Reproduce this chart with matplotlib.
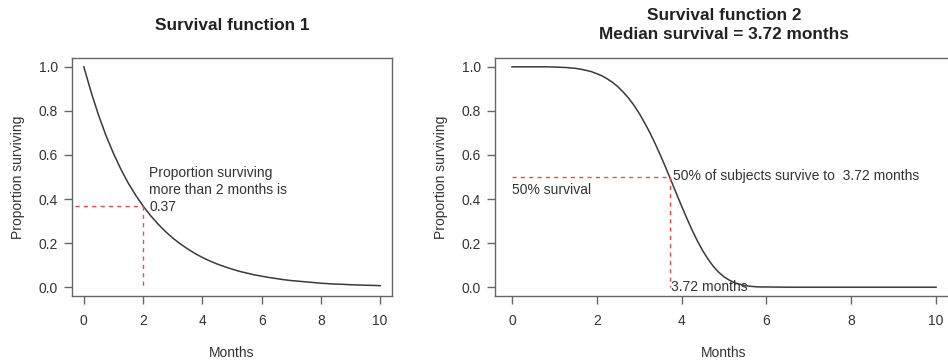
import matplotlib
matplotlib.use("Agg")
import matplotlib.pyplot as plt

# ---- data ----
months1 = [0.0, 0.25, 0.5, 0.75, 1.0, 1.25, 1.5, 1.75, 2.0, 2.25, 2.5, 2.75,
           3.0, 3.25, 3.5, 3.75, 4.0, 4.25, 4.5, 4.75, 5.0, 5.25, 5.5, 5.75,
           6.0, 6.25, 6.5, 6.75, 7.0, 7.25, 7.5, 7.75, 8.0, 8.25, 8.5, 8.75,
           9.0, 9.25, 9.5, 9.75, 10.0]
surv1 = [1.000, 0.883, 0.779, 0.687, 0.607, 0.535, 0.472, 0.417, 0.368, 0.325,
         0.287, 0.253, 0.223, 0.197, 0.174, 0.153, 0.135, 0.119, 0.105, 0.093,
         0.082, 0.072, 0.064, 0.056, 0.050, 0.044, 0.039, 0.034, 0.030, 0.027,
         0.024, 0.021, 0.018, 0.016, 0.014, 0.013, 0.011, 0.010, 0.009, 0.008,
         0.007]
months2 = [0.0, 0.25, 0.5, 0.75, 1.0, 1.25, 1.5, 1.625, 1.75, 1.875,
           2.0, 2.125, 2.25, 2.375, 2.5, 2.625, 2.75, 2.875,
           3.0, 3.125, 3.25, 3.375, 3.5, 3.625, 3.75, 3.875,
           4.0, 4.125, 4.25, 4.375, 4.5, 4.625, 4.75, 4.875,
           5.0, 5.125, 5.25, 5.375, 5.5, 5.625, 5.75, 5.875,
           6.0, 6.5, 7.0, 7.5, 8.0, 8.5, 9.0, 9.5, 10.0]
surv2 = [1.000, 1.000, 1.000, 1.000, 0.999, 0.997, 0.993, 0.989, 0.984, 0.978,
         0.969, 0.959, 0.945, 0.929, 0.909, 0.885, 0.858, 0.826,
         0.789, 0.747, 0.702, 0.652, 0.599, 0.543, 0.485, 0.426,
         0.368, 0.312, 0.258, 0.209, 0.165, 0.127, 0.094, 0.068,
         0.047, 0.032, 0.020, 0.013, 0.007, 0.004, 0.002, 0.001,
         0.001, 0.000, 0.000, 0.000, 0.000, 0.000, 0.000, 0.000, 0.000]
xticks = [0, 2, 4, 6, 8, 10]
yticks = [0.0, 0.2, 0.4, 0.6, 0.8, 1.0]
ytick_labels = ["0.0", "0.2", "0.4", "0.6", "0.8", "1.0"]
t1, s1 = 2, 0.37
median2 = 3.72

plt.rcParams['font.family'] = ['Liberation Sans', 'DejaVu Sans']
W, H = 948, 363
fig = plt.figure(figsize=(W / 100, H / 100), dpi=100)

TXT = '#333333'
SPINE = '#666666'
CURVE = '#3a3a3a'
RED = '#f04a4a'


def px_axes(l, r, t, b):
    return fig.add_axes([l / W, (H - b) / H, (r - l) / W, (b - t) / H])


def style(ax):
    ax.set_xlim(-0.4, 10.4)
    ax.set_ylim(-0.04, 1.04)
    ax.set_xticks(xticks)
    ax.set_yticks(yticks)
    ax.set_yticklabels(ytick_labels)
    for sp in ax.spines.values():
        sp.set_color(SPINE)
        sp.set_linewidth(1.0)
    ax.tick_params(axis='both', colors=SPINE, labelcolor=TXT, labelsize=10,
                   length=6, width=1.0)
    ax.tick_params(axis='x', pad=7)
    ax.tick_params(axis='y', pad=4)
    ax.set_xlabel('Months', fontsize=10, color=TXT, labelpad=13)
    ax.set_ylabel('Proportion surviving', fontsize=10, color=TXT, labelpad=10)


# left panel
ax1 = px_axes(72, 392, 58, 296)
style(ax1)
ax1.plot(months1, surv1, color=CURVE, lw=1.1)
ax1.plot([-0.3, t1], [s1, s1], color=RED, lw=1.0, ls=(0, (3, 3)))
ax1.plot([t1, t1], [s1, 0], color=RED, lw=1.0, ls=(0, (3, 3)))
ax1.text(t1 + 0.2, 0.44, 'Proportion surviving\nmore than 2 months is\n0.37',
         fontsize=10, color=TXT, ha='left', va='center', linespacing=1.25)
ax1.set_title('Survival function 1', fontsize=12.4, fontweight='bold',
              color='#222222', pad=20)

# right panel (extends beyond the right image edge)
ax2 = px_axes(495, 953, 58, 296)
style(ax2)
ax2.plot(months2, surv2, color=CURVE, lw=1.1)
ax2.plot([0, median2], [0.5, 0.5], color=RED, lw=1.0, ls=(0, (3, 3)))
ax2.plot([median2, median2], [0.5, 0], color=RED, lw=1.0, ls=(0, (3, 3)))
ax2.text(median2 + 0.08, 0.505, '50% of subjects survive to  3.72 months',
         fontsize=10, color=TXT, ha='left', va='center')
ax2.text(0.0, 0.44, '50% survival', fontsize=10, color=TXT, ha='left', va='center')
ax2.text(median2 + 0.04, 0.0, '3.72 months', fontsize=10, color=TXT,
         ha='left', va='center')
ax2.set_title('Survival function 2\nMedian survival = 3.72 months', fontsize=12.4,
              fontweight='bold', color='#222222', pad=14, linespacing=1.3)

fig.savefig('out.png', dpi=100)
